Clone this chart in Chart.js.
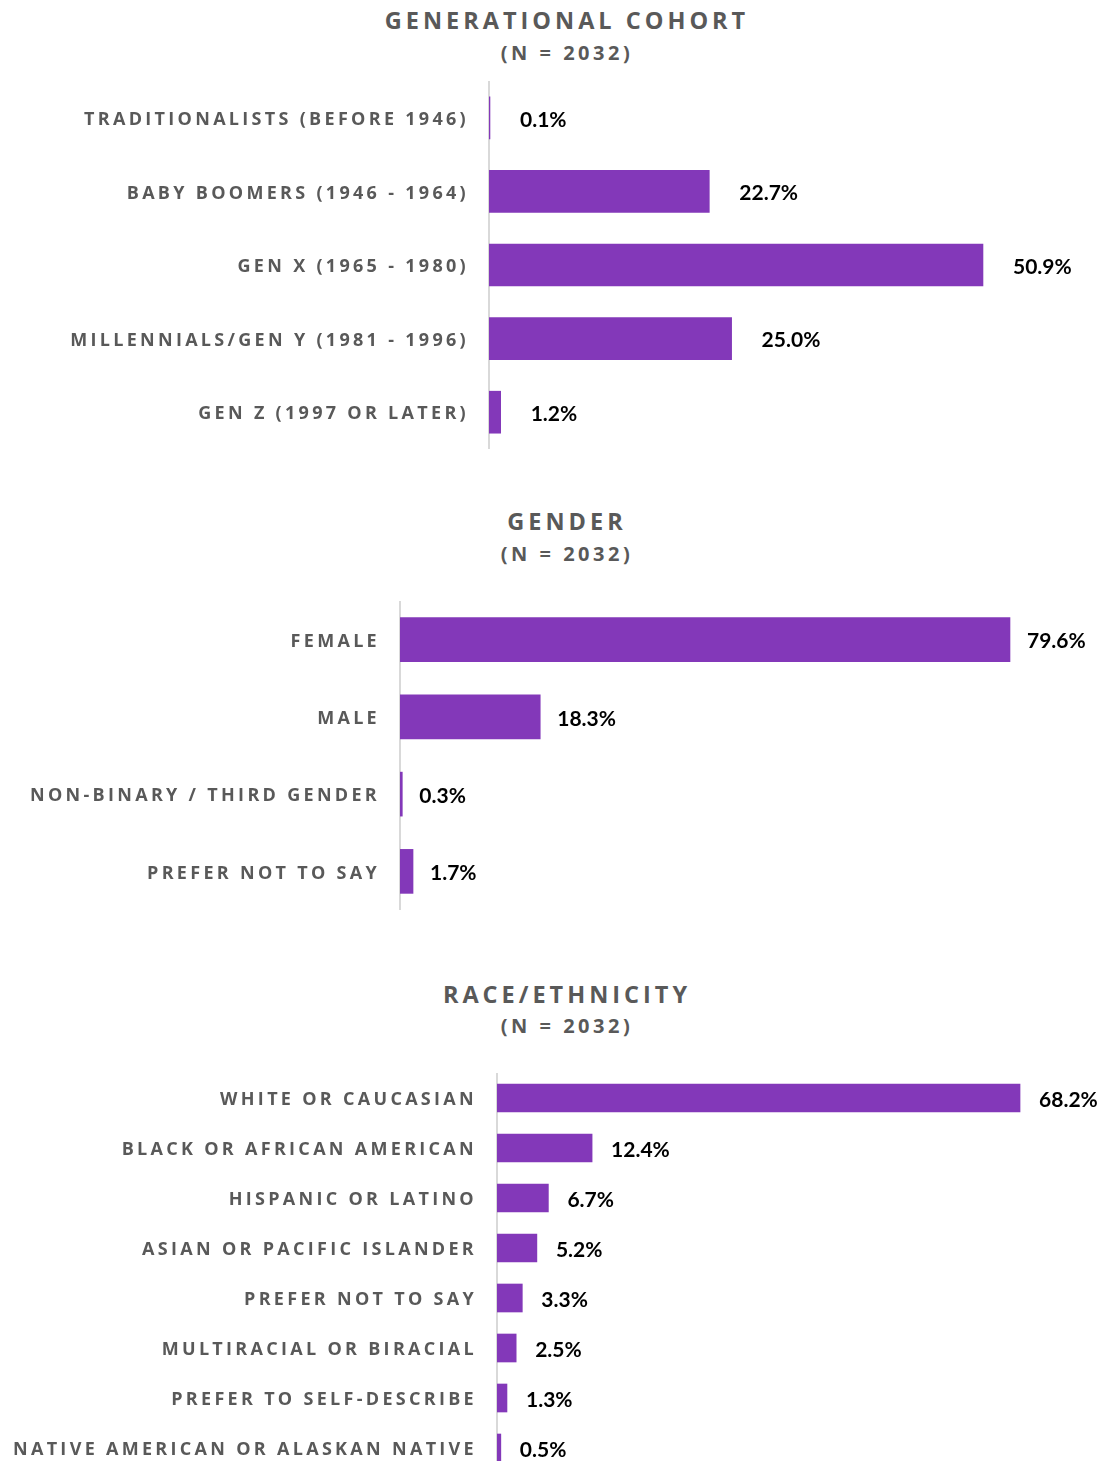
<!DOCTYPE html>
<html>
<head>
<meta charset="utf-8">
<script src="https://cdn.jsdelivr.net/npm/chart.js@4.4.1/dist/chart.umd.min.js"></script>
<style>
  html, body { margin: 0; padding: 0; background: #fff; overflow: hidden; }
  body { width: 1107px; height: 1461px; position: relative; }
  .title, .sub {
    position: absolute; left: 0; width: 1107px; padding-left: 27px; box-sizing: border-box;
    text-align: center; font-family: 'Open Sans'; font-weight: 700; color: #595959; white-space: nowrap;
  }
  .title { font-size: 23.5px; letter-spacing: 4px; height: 30px; line-height: 30px; }
  .sub { font-size: 20px; letter-spacing: 3.5px; height: 26px; line-height: 26px; }
  .wrap { position: absolute; left: 0; width: 1107px; }
</style>
</head>
<body>
<div class="title" style="top:5px">GENERATIONAL COHORT</div>
<div class="sub" style="top:40px">(N = 2032)</div>
<div class="wrap" style="top:81px;height:368px"><canvas id="cohort" width="1107" height="368"></canvas></div>

<div class="title" style="top:506px">GENDER</div>
<div class="sub" style="top:541px">(N = 2032)</div>
<div class="wrap" style="top:601px;height:309px"><canvas id="gender" width="1107" height="309"></canvas></div>

<div class="title" style="top:979px">RACE/ETHNICITY</div>
<div class="sub" style="top:1013px">(N = 2032)</div>
<div class="wrap" style="top:1073px;height:400px"><canvas id="race" width="1107" height="400"></canvas></div>

<script>
// generational cohort
const cohortLabels = [
  'TRADITIONALISTS (BEFORE 1946)',
  'BABY BOOMERS (1946 - 1964)',
  'GEN X (1965 - 1980)',
  'MILLENNIALS/GEN Y (1981 - 1996)',
  'GEN Z (1997 OR LATER)'
];
const cohortValues = [0.1, 22.7, 50.9, 25.0, 1.2];

// gender
const genderLabels = ['FEMALE', 'MALE', 'NON-BINARY / THIRD GENDER', 'PREFER NOT TO SAY'];
const genderValues = [79.6, 18.3, 0.3, 1.7];

// race / ethnicity
const raceLabels = [
  'WHITE OR CAUCASIAN',
  'BLACK OR AFRICAN AMERICAN',
  'HISPANIC OR LATINO',
  'ASIAN OR PACIFIC ISLANDER',
  'PREFER NOT TO SAY',
  'MULTIRACIAL OR BIRACIAL',
  'PREFER TO SELF-DESCRIBE',
  'NATIVE AMERICAN OR ALASKAN NATIVE'
];
const raceValues = [68.2, 12.4, 6.7, 5.2, 3.3, 2.5, 1.3, 0.5];

const PURPLE = '#8338b9';

// spaced-out capitals on the category axis
const letterSpacing = {
  id: 'letterSpacing',
  beforeDraw(chart) {
    chart.ctx.letterSpacing = '3.3px';
  }
};

// percentage written past the end of each bar
const valueLabels = {
  id: 'valueLabels',
  afterDatasetsDraw(chart, args, opts) {
    const ctx = chart.ctx;
    const meta = chart.getDatasetMeta(0);
    const data = chart.data.datasets[0].data;
    ctx.save();
    ctx.letterSpacing = '0px';
    ctx.font = 'bold 21px Lato';
    ctx.fillStyle = '#000';
    ctx.textAlign = 'left';
    ctx.textBaseline = 'middle';
    meta.data.forEach((bar, i) => {
      ctx.fillText(data[i].toFixed(1) + '%', bar.x + opts.offset, bar.y + 2);
    });
    ctx.restore();
  }
};

function makeChart(id, labels, values, axisX, xMax, thickness, labelOffset) {
  return new Chart(document.getElementById(id), {
    type: 'bar',
    data: {
      labels: labels,
      datasets: [{
        data: values,
        backgroundColor: PURPLE,
        barThickness: thickness
      }]
    },
    options: {
      indexAxis: 'y',
      responsive: false,
      maintainAspectRatio: false,
      animation: false,
      layout: { padding: 0 },
      plugins: {
        legend: { display: false },
        tooltip: { enabled: false },
        valueLabels: { offset: labelOffset }
      },
      scales: {
        x: { type: 'linear', min: 0, max: xMax, display: false },
        y: {
          grid: { display: false, drawTicks: false },
          border: { display: true, color: '#d9d9d9', width: 2 },
          ticks: {
            color: '#595959',
            padding: 20,
            labelOffset: 2,
            font: { family: 'Open Sans', weight: 'bold', size: 18 }
          },
          afterFit(scale) {
            scale.width = axisX;
            scale.paddingTop = 0;
            scale.paddingBottom = 0;
          }
        }
      }
    },
    plugins: [letterSpacing, valueLabels]
  });
}

makeChart('cohort', cohortLabels, cohortValues, 489, 63.68, 42, 30);
makeChart('gender', genderLabels, genderValues, 400, 92.26, 44, 17);
makeChart('race', raceLabels, raceValues, 497, 79.54, 28, 19);
</script>
</body>
</html>
